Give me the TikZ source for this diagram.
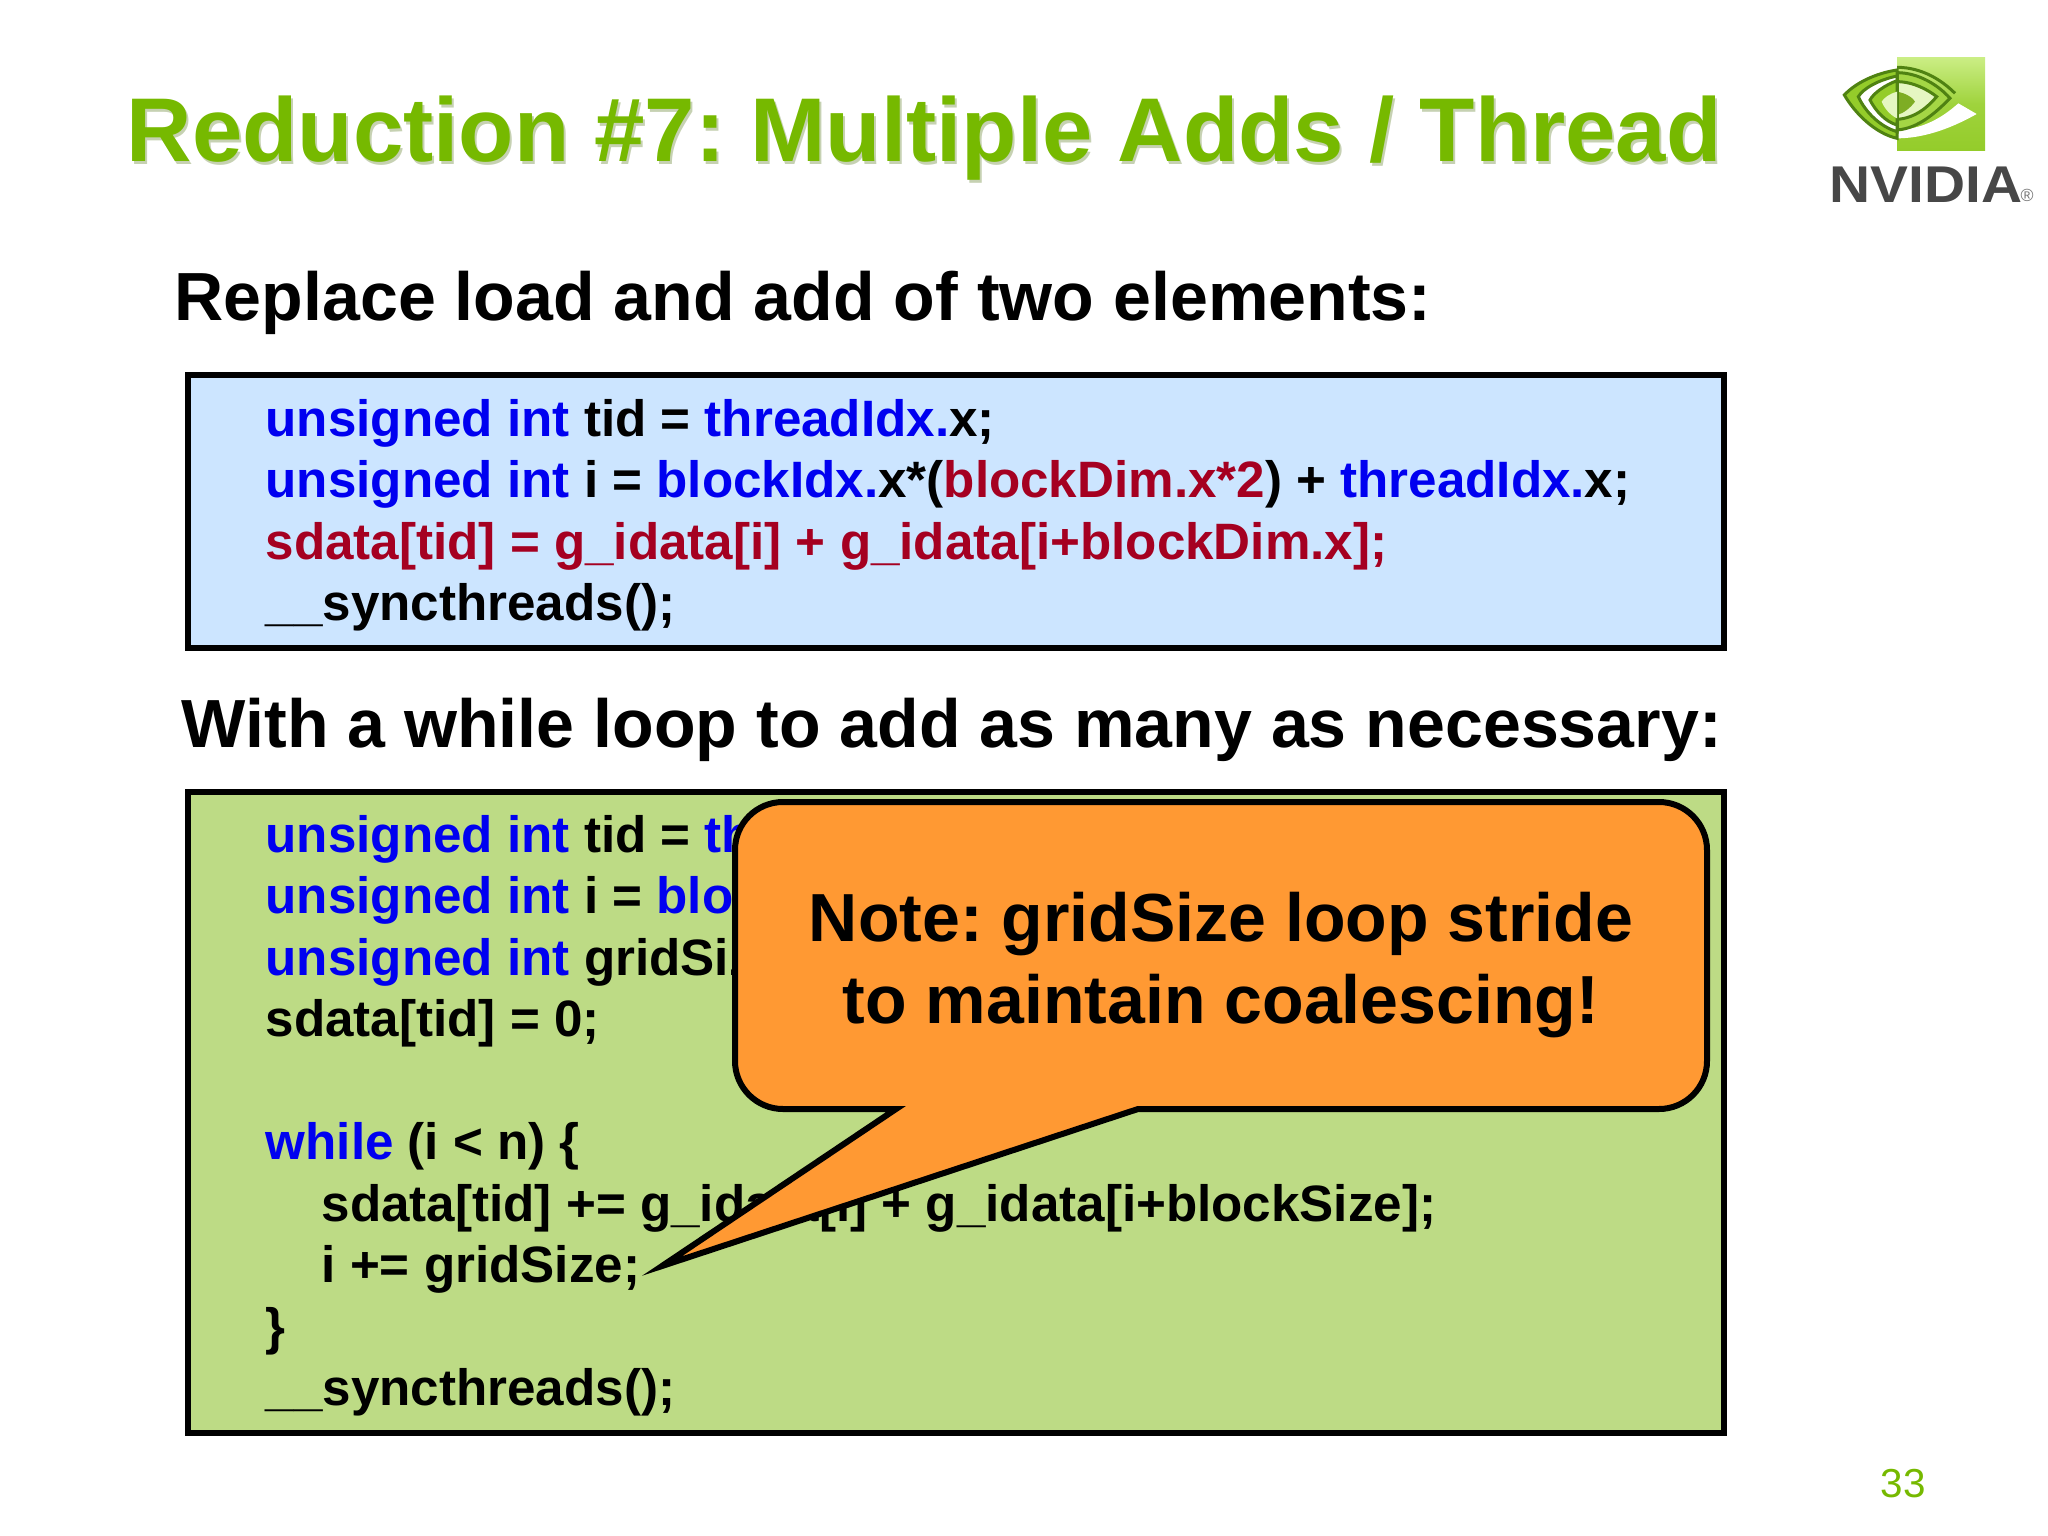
\documentclass[tikz,border=0pt]{standalone}
\usepackage{fontspec}
\setmainfont{Liberation Sans}
\frenchspacing

\definecolor{nvgreen}{HTML}{76B900}
\definecolor{kwblue}{HTML}{0000F0}
\definecolor{kwred}{HTML}{A50021}
\definecolor{boxblue}{HTML}{CCE5FF}
\definecolor{boxgreen}{HTML}{BDDB85}
\definecolor{noteorange}{HTML}{FF9933}
\definecolor{logolight}{HTML}{CBEE85}
\definecolor{logomid}{HTML}{94CC2A}
\definecolor{logoline}{HTML}{4F8212}

\newcommand{\kw}[1]{\textcolor{kwblue}{#1}}
\newcommand{\rd}[1]{\textcolor{kwred}{#1}}

\tikzset{
    slidetitle/.style={anchor=base west, inner sep=0pt, font=\fontsize{25.75}{30}\selectfont\bfseries},
    subhead/.style={anchor=base west, inner sep=0pt, font=\fontsize{19.37}{24}\selectfont\bfseries},
    codeline/.style={anchor=base west, inner sep=0pt, font=\fontsize{14.55}{18}\selectfont\bfseries},
    codebox/.style={draw=black, line width=0.6mm},
    notebox/.style={fill=noteorange, draw=black, line width=0.6mm, miter limit=12},
    logoedge/.style={draw=logoline, line width=0.3mm},
}

\begin{document}
\begin{tikzpicture}[x=0.01cm,y=-0.01cm]
    \useasboundingbox (0,0) rectangle (2048,1536);

    % heading
    \node[slidetitle, text=black!45!nvgreen, opacity=0.3] (titleshadow) at (128,164) {Reduction \#7: Multiple Adds / Thread};
    \node[slidetitle, text=nvgreen] (title) at (126,161) {Reduction \#7: Multiple Adds / Thread};
    \node[subhead] (replace) at (174,320) {Replace load and add of two elements:};
    \node[subhead] (whileloop) at (181,747) {With a while loop to add as many as necessary:};

    % logo
    \begin{scope}[shift={(1835,50)},scale=0.3333]
        \shade[top color=logolight, bottom color=logomid, middle color=logomid!80!logolight] (186,22) rectangle (450,303);
        \fill[white] (186,265) .. controls (260,265) and (340,240) .. (425,192) -- (370,160) .. controls (320,205) and (260,238) .. (186,240) -- cycle;
        \draw[logoedge] (186,52) .. controls (260,52) and (320,90) .. (360,130);
        \filldraw[fill=logomid!70!logolight, logoedge] (186,68) .. controls (250,68) and (310,105) .. (345,145) .. controls (300,190) and (250,235) .. (186,240) -- cycle;
        \filldraw[fill=logolight!50!white, logoedge] (186,95) .. controls (235,95) and (280,120) .. (305,140) .. controls (280,170) and (240,205) .. (186,208) -- cycle;
        \fill[logomid!85!black] (186,125) .. controls (215,130) and (235,145) .. (240,155) .. controls (225,175) and (205,190) .. (186,195) -- cycle;
        \filldraw[fill=logomid, logoedge] (186,60) .. controls (120,70) and (60,100) .. (28,135) .. controls (60,190) and (120,250) .. (186,265) -- cycle;
        \filldraw[fill=white, logoedge] (186,78) .. controls (130,90) and (85,115) .. (70,140) .. controls (90,185) and (135,230) .. (186,245) -- cycle;
        \filldraw[fill=logomid, logoedge] (186,92) .. controls (150,105) and (115,130) .. (105,150) .. controls (120,180) and (150,215) .. (186,225) -- cycle;
        \fill[logolight!50!white] (186,125) .. controls (165,130) and (145,145) .. (140,155) .. controls (148,175) and (165,195) .. (186,205) -- cycle;
    \end{scope}
    \node[anchor=base, inner sep=0pt, text=black!72, xscale=1.1, font=\fontsize{14.7}{17}\selectfont\bfseries] (logotext) at (1926,202) {NVIDIA};
    \node[anchor=base, inner sep=0pt, text=black!55, font=\fontsize{5}{6}\selectfont] (logomark) at (2027,201) {®};

    % first box
    \filldraw[fill=boxblue, codebox] (188,375) rectangle (1724,648);
    \node[codeline] (ba) at (265,436) {\kw{unsigned int} tid = \kw{threadIdx.}x;};
    \node[codeline] (bb) at (265,497) {\kw{unsigned int} i = \kw{blockIdx.}x*(\rd{blockDim.x*2}) + \kw{threadIdx.}x;};
    \node[codeline] (bc) at (265,559) {\rd{sdata[tid] = g\_idata[i] + g\_idata[i+blockDim.x];}};
    \node[codeline] (bd) at (265,620) {\_\_syncthreads();};

    % second box
    \filldraw[fill=boxgreen, codebox] (188,792) rectangle (1724,1433);
    \node[codeline] (ga) at (265,852) {\kw{unsigned int} tid = \kw{th}};
    \node[codeline] (gb) at (265,913) {\kw{unsigned int} i = \kw{blo}};
    \node[codeline] (gc) at (265,975) {\kw{unsigned int} gridSiz};
    \node[codeline] (gd) at (265,1036) {sdata[tid] = 0;};
    \node[codeline] (ge) at (265,1159) {\kw{while} (i < n) \{};
    \node[codeline] (gf) at (321,1221) {sdata[tid] += g\_idata[i] + g\_idata[i+blockSize];};
    \node[codeline] (gg) at (321,1282) {i += gridSize;};
    \node[codeline] (gh) at (265,1344) {\}};
    \node[codeline] (gi) at (265,1405) {\_\_syncthreads();};

    % note
    \filldraw[notebox] (896,1109) [rounded corners=0.48cm] -- (735,1109) -- (735,802) -- (1707,802) -- (1707,1109) [sharp corners] -- (1138,1109) -- (662,1266) -- cycle;
    \node[anchor=center, align=center, inner sep=0pt, font=\fontsize{19.35}{23.3}\selectfont\bfseries] (note) at (1221,965) {Note: gridSize loop stride\\to maintain coalescing!};

    % page number
    \node[anchor=base, inner sep=0pt, text=nvgreen, font=\fontsize{11.5}{14}\selectfont] (pagenum) at (1903,1497) {33};
\end{tikzpicture}
\end{document}
